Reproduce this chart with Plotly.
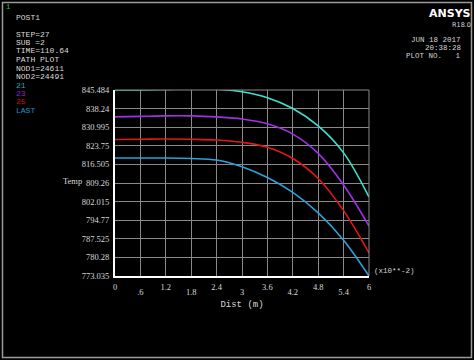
import plotly.graph_objects as go

# ---- data ----
dist = [0, 0.6, 1.2, 1.8, 2.4, 3.0, 3.6, 4.2, 4.8, 5.4, 6.0]
temp_21 = [845.48, 845.5, 845.7, 845.9, 845.8, 844.8, 842.5, 838.3, 831.5, 821.0, 803.8]
temp_23 = [835.0, 835.2, 835.4, 835.4, 835.0, 834.2, 832.3, 828.3, 820.8, 808.5, 792.5]
temp_25 = [826.2, 826.3, 826.4, 826.3, 826.0, 825.1, 823.2, 818.8, 811.0, 798.5, 782.0]
temp_last = [819.0, 819.0, 819.0, 818.8, 818.2, 815.6, 811.4, 805.6, 797.6, 787.0, 773.035]
series_names = ["21", "23", "25", "LAST"]
y_ticks = [773.035, 780.28, 787.525, 794.77, 802.015, 809.26, 816.505, 823.75, 830.995, 838.24, 845.484]
y_tick_labels = ["773.035", "780.28", "787.525", "794.77", "802.015", "809.26",
                 "816.505", "823.75", "830.995", "838.24", "845.484"]
x_ticks_row1 = [0, 1.2, 2.4, 3.6, 4.8, 6.0]
x_labels_row1 = ["0", "1.2", "2.4", "3.6", "4.8", "6"]
x_ticks_row2 = [0.6, 1.8, 3.0, 4.2, 5.4]
x_labels_row2 = [".6", "1.8", "3", "4.2", "5.4"]
info_lines = ["STEP=27", "SUB =2", "TIME=110.64", "PATH PLOT", "NOD1=24611", "NOD2=24491"]
date_lines = ["JUN 18 2017", "20:38:28", "PLOT NO.   1"]

line_colors = ["#3fe0cc", "#a030e8", "#e01818", "#2ea0dc"]
label_colors = ["#22a8b8", "#8a28c8", "#c81414", "#2290d0"]

W, H = 474, 360
ML, MR, MT, MB = 115, 105, 90, 84
PW, PH = W - ML - MR, H - MT - MB


def px(x):
    return (x - ML) / PW


def py(y):
    return 1 - (y - MT) / PH


FONT = "Liberation Serif"
MONO = "Liberation Mono"
TXT = "#d8d8d8"
GRID = "#8a8a8a"

fig = go.Figure()
for name, vals, col in zip(series_names, [temp_21, temp_23, temp_25, temp_last], line_colors):
    fig.add_trace(go.Scatter(x=dist, y=vals, mode="lines", name=name, hoverinfo="skip",
                             line=dict(color=col, width=1.6, shape="spline", smoothing=1.0)))
# carrier trace for the second (staggered) tick-label axis
fig.add_trace(go.Scatter(x=dist, y=temp_21, xaxis="x2", mode="lines", opacity=0,
                         line=dict(width=0), hoverinfo="skip", showlegend=False))

fig.update_layout(
    width=W, height=H,
    margin=dict(l=ML, r=MR, t=MT, b=MB),
    paper_bgcolor="black", plot_bgcolor="black",
    showlegend=False,
    font=dict(family=FONT, size=9, color=TXT),
    xaxis=dict(range=[0, 6], tickvals=x_ticks_row1, ticktext=x_labels_row1,
               showgrid=True, gridcolor=GRID, gridwidth=1,
               zeroline=False, showline=True, linecolor="white", linewidth=2,
               ticks="", ticklabelstandoff=2, tickfont=dict(family=FONT, size=8.5, color=TXT),
               title=dict(text="Dist (m)", font=dict(family=MONO, size=9, color=TXT), standoff=9)),
    xaxis2=dict(range=[0, 6], overlaying="x", side="bottom", anchor="y",
                tickvals=x_ticks_row2, ticktext=x_labels_row2,
                showgrid=True, gridcolor=GRID, gridwidth=1, zeroline=False, showline=False,
                ticks="", ticklabelstandoff=9, tickfont=dict(family=FONT, size=8.5, color=TXT)),
    yaxis=dict(range=[773.035, 845.484], tickvals=y_ticks, ticktext=y_tick_labels,
               showgrid=True, gridcolor=GRID, gridwidth=1,
               zeroline=False, showline=True, linecolor="white", linewidth=2,
               ticks="", ticklabelstandoff=2, tickfont=dict(family=FONT, size=8.5, color=TXT)),
)

# right edge grid line + top line
fig.add_shape(type="line", xref="paper", yref="paper", x0=1, x1=1, y0=0, y1=1,
              line=dict(color=GRID, width=1))
fig.add_shape(type="line", xref="paper", yref="paper", x0=0, x1=1, y0=1, y1=1,
              line=dict(color=GRID, width=1))

# outer frame
fig.add_shape(type="rect", xref="paper", yref="paper",
              x0=px(2.5), x1=px(471.5), y0=py(357.5), y1=py(2.5),
              line=dict(color="#9a9a9a", width=1.5), layer="below")

anns = []


def text(x, y, s, color=TXT, size=8, anchor="left", bold=False, family=MONO):
    anns.append(dict(x=px(x), y=py(y), xref="paper", yref="paper", text=("<b>%s</b>" % s) if bold else s,
                     showarrow=False, xanchor=anchor, yanchor="middle",
                     font=dict(family=family, size=size, color=color)))


text(4, 7, "1", color="#40c040", size=7)
text(14, 18, "POST1")
yy = 34
for line in info_lines:
    text(14, yy, line)
    yy += 8.5
for nm, col in zip(series_names, label_colors):
    text(14, yy, nm, color=col)
    yy += 8.4

text(473, 14, "ANSYS", color="white", size=11, anchor="right", bold=True, family="DejaVu Sans")
text(473, 25, "R18.0", color=TXT, size=6.5, anchor="right", family="DejaVu Sans")
yy = 39.5
for line in date_lines:
    text(463, yy, line, size=7.5, anchor="right")
    yy += 8.2

text(61, 181, "Temp", size=8.5, family=FONT)
text(372, 271, "(x10**-2)", size=7.5)

fig.update_layout(annotations=anns)
fig.write_html("out.html", config={"displayModeBar": False},
               post_script="document.body.style.margin='0';document.body.style.background='black';")
